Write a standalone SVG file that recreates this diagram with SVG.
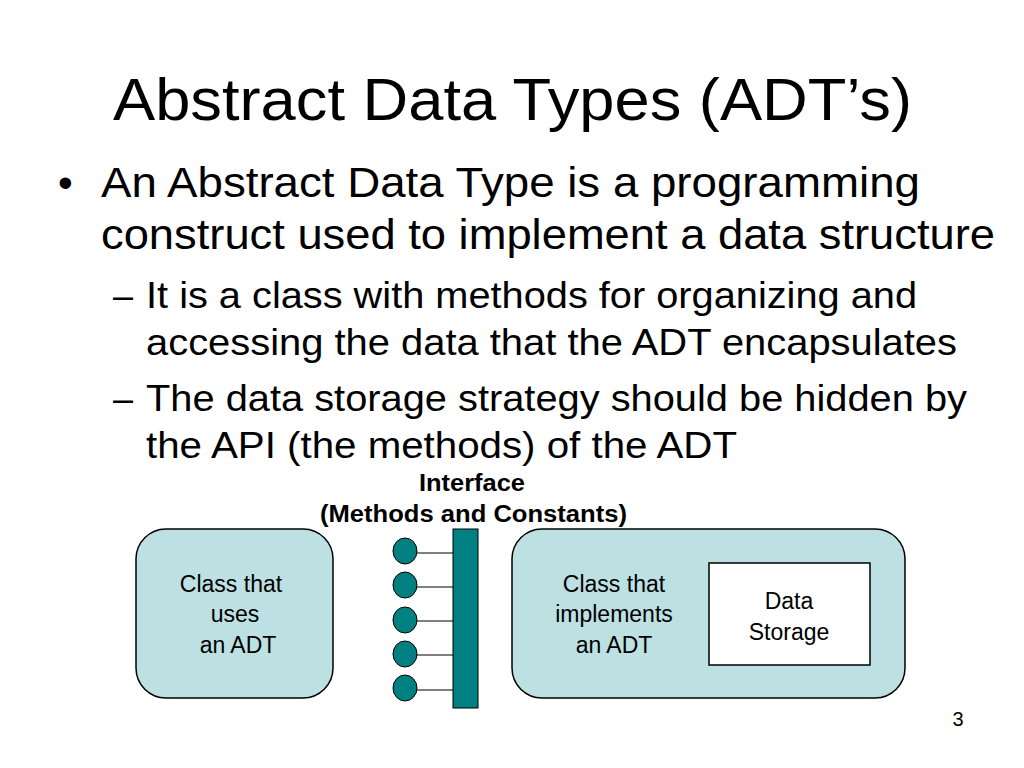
<svg xmlns="http://www.w3.org/2000/svg" width="1024" height="768" viewBox="0 0 1024 768">
<style>
text{font-family:"Liberation Sans",Arial,sans-serif;fill:#000}
.t{font-size:60px}.b{font-size:42px}.s{font-size:36px}.n{font-size:23px}.lb{font-size:23px;font-weight:bold}
.box{fill:#bde0e3;stroke:#000;stroke-width:1.5}
.c{fill:#008080;stroke:#000;stroke-width:1}
</style>
<rect width="1024" height="768" fill="#fff"/>
<text class="t" x="113" y="120" textLength="799" lengthAdjust="spacingAndGlyphs">Abstract Data Types (ADT’s)</text>
<text class="b" x="58" y="197">•</text>
<text class="b" x="101" y="197" textLength="819" lengthAdjust="spacingAndGlyphs">An Abstract Data Type is a programming</text>
<text class="b" x="101" y="249" textLength="894" lengthAdjust="spacingAndGlyphs">construct used to implement a data structure</text>
<text class="s" x="113" y="308">–</text>
<text class="s" x="146" y="308" textLength="771" lengthAdjust="spacingAndGlyphs">It is a class with methods for organizing and</text>
<text class="s" x="146" y="355" textLength="811" lengthAdjust="spacingAndGlyphs">accessing the data that the ADT encapsulates</text>
<text class="s" x="113" y="411">–</text>
<text class="s" x="146" y="411" textLength="821" lengthAdjust="spacingAndGlyphs">The data storage strategy should be hidden by</text>
<text class="s" x="146" y="458" textLength="591" lengthAdjust="spacingAndGlyphs">the API (the methods) of the ADT</text>
<g id="label"><text class="lb" x="419" y="491" textLength="106" lengthAdjust="spacingAndGlyphs">Interface</text>
<text class="lb" x="320" y="522" textLength="307" lengthAdjust="spacingAndGlyphs">(Methods and Constants)</text></g>
<g id="user"><rect class="box" x="136" y="529" width="197" height="169" rx="30"/>
<text class="n" x="231" y="592" text-anchor="middle">Class that</text>
<text class="n" x="235" y="622" text-anchor="middle">uses</text>
<text class="n" x="238" y="653" text-anchor="middle">an ADT</text></g>
<g id="impl"><rect class="box" x="512" y="529" width="393" height="169" rx="30"/>
<text class="n" x="614" y="592" text-anchor="middle">Class that</text>
<text class="n" x="614" y="622" text-anchor="middle">implements</text>
<text class="n" x="614" y="653" text-anchor="middle">an ADT</text>
<rect x="709" y="563" width="161" height="102" fill="#fff" stroke="#000" stroke-width="1.5"/>
<text class="n" x="789" y="609" text-anchor="middle">Data</text>
<text class="n" x="789" y="640" text-anchor="middle">Storage</text></g>
<g id="connectors" stroke="#000" stroke-width="1">
<line x1="417" y1="553" x2="453" y2="553"/><line x1="417" y1="587" x2="453" y2="587"/>
<line x1="417" y1="621" x2="453" y2="621"/><line x1="417" y1="655" x2="453" y2="655"/>
<line x1="417" y1="690" x2="453" y2="690"/></g>
<g id="interface">
<rect x="453" y="529" width="25" height="179" fill="#008080" stroke="#000"/>
<ellipse class="c" cx="405" cy="551" rx="12" ry="13"/><ellipse class="c" cx="405" cy="585" rx="12" ry="13"/>
<ellipse class="c" cx="405" cy="620" rx="12" ry="13"/><ellipse class="c" cx="405" cy="654" rx="12" ry="13"/>
<ellipse class="c" cx="405" cy="688" rx="12" ry="13"/></g>
<text x="958" y="726" font-size="20" text-anchor="middle">3</text>
</svg>
